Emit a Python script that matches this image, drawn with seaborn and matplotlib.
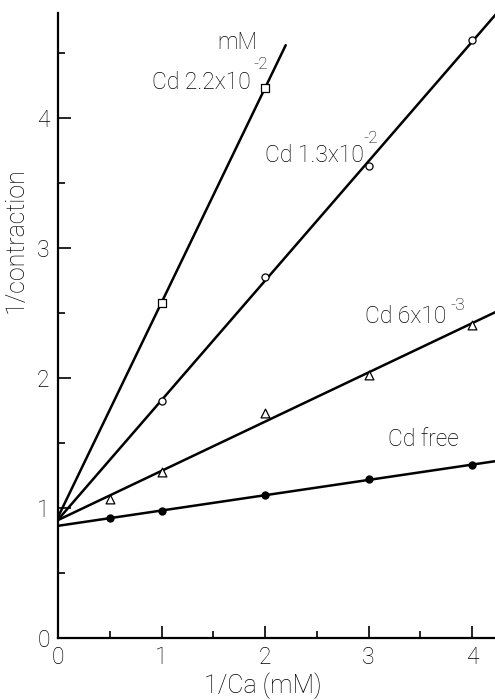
import numpy as np
import pandas as pd
import matplotlib
matplotlib.use("Agg")
import matplotlib.pyplot as plt
import seaborn as sns

# Double-reciprocal plot: 1/contraction against 1/[Ca] at several Cd levels
series_names = ["Cd 2.2x10", "Cd 1.3x10", "Cd 6x10", "Cd free"]
series_exponents = ["-2", "-2", "-3", ""]

x_cd22 = [1, 2]
y_cd22 = [2.58, 4.23]

x_cd13 = [1, 2, 3, 4]
y_cd13 = [1.82, 2.78, 3.63, 4.60]

x_cd6 = [0.5, 1, 2, 3, 4]
y_cd6 = [1.07, 1.28, 1.73, 2.02, 2.41]

x_free = [0.5, 1, 2, 3, 4]
y_free = [0.92, 0.98, 1.10, 1.22, 1.33]

# right end of each regression line (1/Ca, mM^-1)
line_end = [2.2, 4.3, 4.3, 4.3]

x_ticks = [0, 1, 2, 3, 4]
y_ticks = [0, 1, 2, 3, 4]

xs = [x_cd22, x_cd13, x_cd6, x_free]
ys = [y_cd22, y_cd13, y_cd6, y_free]

sns.set_theme(style="ticks")
plt.rcParams["font.family"] = ["Roboto", "DejaVu Sans"]
plt.rcParams["font.weight"] = "light"
plt.rcParams["axes.labelweight"] = "light"
plt.rcParams["axes.edgecolor"] = "black"
plt.rcParams["text.color"] = "black"
plt.rcParams["xtick.color"] = "black"
plt.rcParams["ytick.color"] = "black"
plt.rcParams["axes.labelcolor"] = "black"

fig = plt.figure(figsize=(4.95, 7.0), dpi=100)
ax = fig.add_axes([58 / 495, 62 / 700, 437 / 495, 625 / 700])

marker_styles = [
    dict(marker="s", s=26, color="white", edgecolor="black", linewidth=0.9),
    dict(marker="o", s=26, color="white", edgecolor="black", linewidth=0.9),
    dict(marker="^", s=40, color="white", edgecolor="black", linewidth=0.9),
    dict(marker="o", s=26, color="black", edgecolor="black", linewidth=0.9),
]

for name, x, y, x_end, mk in zip(series_names, xs, ys, line_end, marker_styles):
    slope, intercept = np.polyfit(x, y, 1)
    fit = pd.DataFrame({"x": [0.0, x_end]})
    fit["y"] = intercept + slope * fit["x"]
    sns.lineplot(data=fit, x="x", y="y", ax=ax, color="black", linewidth=1.8, zorder=2)
    pts = pd.DataFrame({"x": x, "y": y})
    sns.scatterplot(data=pts, x="x", y="y", ax=ax, zorder=3, **mk)

ax.set_xlim(0, 437 / 103.5)
ax.set_ylim(0, 625 / 130)
ax.set_xticks(x_ticks)
ax.set_yticks(y_ticks)
ax.set_xticks(np.arange(0.5, 4.5, 1.0), minor=True)
ax.set_yticks(np.arange(0.5, 5.0, 1.0), minor=True)
ax.tick_params(which="major", direction="in", length=9, width=1.2, labelsize=16.5, pad=6)
ax.tick_params(which="minor", direction="in", length=5, width=1.2)
sns.despine(ax=ax)
for side in ("left", "bottom"):
    ax.spines[side].set_linewidth(1.6)

ax.set_xlabel("1/Ca (mM)", fontsize=18, va="center")
ax.xaxis.set_label_coords(0.469, -0.077)
ax.set_ylabel("1/contraction", fontsize=18, va="center")
ax.yaxis.set_label_coords(-0.096, 0.637)

# series labels with their exponents
label_pos = [(0.908, 4.27), (2.0, 3.71), (2.966, 2.47), (3.19, 1.53)]
sup_pos = [(1.89, 4.41), (2.95, 3.84), (3.79, 2.56), None]
for name, exp, lp, sp in zip(series_names, series_exponents, label_pos, sup_pos):
    ax.text(lp[0], lp[1], name, fontsize=16.5, ha="left", va="center")
    if sp is not None:
        ax.text(sp[0], sp[1], exp, fontsize=12.5, ha="left", va="center")
ax.text(1.536, 4.58, "mM", fontsize=16.5, ha="left", va="center")

fig.savefig("out.png", dpi=100)
